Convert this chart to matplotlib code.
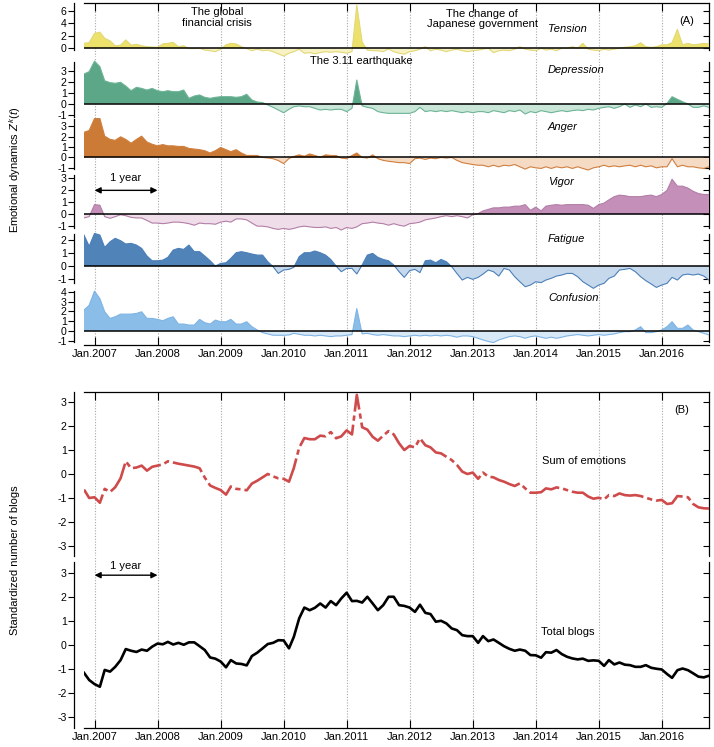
import numpy as np
import pandas as pd
import matplotlib
matplotlib.use('Agg')
import matplotlib.pyplot as plt

plt.rcParams['font.family'] = ['Liberation Sans', 'DejaVu Sans']
plt.rcParams['mathtext.fontset'] = 'custom'
plt.rcParams['mathtext.it'] = 'Liberation Sans:italic'
plt.rcParams['mathtext.rm'] = 'Liberation Sans'
plt.rcParams['axes.unicode_minus'] = False

# ---------------- data ----------------
months = pd.date_range('2006-11-01', periods=120, freq='MS')
year_ticks = pd.date_range('2007-01-01', '2016-01-01', freq='YS')
year_labels = ['Jan.%d' % y for y in range(2007, 2017)]

tension = np.array([
    0.8, 0.9, 2.4, 2.6, 1.6, 1.2, 0.4, 0.5, 1.35, 0.5,
    0.65, 0.4, 0.25, 0.2, 0.15, 0.7, 0.8, 0.95, 0.25, 0.4,
    -0.05, -0.05, 0, -0.3, -0.4, -0.55, -0.15, 0.55, 0.8, 0.7,
    0.25, -0.05, -0.4, -0.15, -0.4, -0.3, -0.55, -0.9, -1.25, -0.8,
    -0.55, -0.15, -0.8, -0.7, -0.9, -0.7, -0.55, -0.65, -0.55, -0.65,
    -0.8, -0.55, 7.0, 1.0, -0.3, -0.4, -0.4, -0.55, -0.1, -0.55,
    -0.8, -0.95, -0.55, -0.4, -0.15, 0.25, -0.4, -0.15, -0.3, -0.55,
    -0.3, -0.15, -0.4, -0.55, -0.4, -0.3, -0.15, 0, -0.7, -0.4,
    -0.3, -0.4, -0.15, 0.25, -0.15, -0.3, -0.4, 0, -0.3, -0.15,
    -0.4, 0, 0, 0.25, 0, 0.8, -0.15, -0.3, -0.4, -0.15,
    -0.3, -0.15, 0, 0.15, 0.25, 0.4, 0.9, 0.25, 0.15, 0.25,
    0.55, 0.55, 0.9, 3.05, 0.55, 0.8, 0.55, 0.65, 0.8, 0.7])

depression = np.array([
    2.72, 2.94, 3.9, 3.4, 2.1, 1.93, 1.87, 1.96, 1.62, 1.19,
    1.5, 1.4, 1.25, 1.4, 1.19, 1.1, 1.19, 1.1, 1.1, 1.25,
    0.49, 0.7, 0.8, 0.58, 0.49, 0.58, 0.64, 0.64, 0.64, 0.58,
    0.64, 0.86, 0.34, 0.15, 0.1, -0.12, -0.34, -0.58, -0.83, -0.52,
    -0.28, -0.21, -0.28, -0.28, -0.43, -0.58, -0.52, -0.58, -0.52, -0.52,
    -0.73, -0.43, 2.17, -0.2, -0.34, -0.43, -0.73, -0.83, -0.89, -0.89,
    -0.89, -0.89, -0.89, -0.73, -0.34, -0.73, -0.64, -0.73, -0.64, -0.73,
    -0.64, -0.73, -0.83, -0.73, -0.83, -0.73, -0.73, -0.83, -0.64, -0.73,
    -0.83, -0.64, -0.73, -0.58, -0.95, -0.73, -0.83, -0.64, -0.73, -0.83,
    -0.73, -0.64, -0.73, -0.64, -0.58, -0.64, -0.52, -0.58, -0.43, -0.34,
    -0.28, -0.43, -0.28, -0.03, -0.34, -0.12, -0.28, -0.03, -0.34, -0.28,
    -0.34, 0.03, 0.64, 0.4, 0.18, -0.03, -0.34, -0.34, -0.2, -0.34])

anger = np.array([
    2.42, 2.6, 3.76, 3.76, 2.05, 1.74, 1.65, 1.99, 1.74, 1.37,
    1.74, 2.05, 1.49, 1.27, 1.12, 1.24, 1.12, 1.12, 1.06, 1.06,
    0.87, 0.81, 0.75, 0.65, 0.43, 0.65, 0.96, 0.75, 0.56, 0.75,
    0.43, 0.19, 0.19, 0.19, 0, -0.05, -0.12, -0.3, -0.59, -0.1,
    0.1, 0.25, 0.12, 0.34, 0.19, 0.03, 0.25, 0.19, 0.19, -0.06,
    -0.12, 0.19, 0.43, 0, -0.06, 0.25, -0.12, -0.28, -0.37, -0.43,
    -0.5, -0.5, -0.59, -0.12, -0.06, -0.19, -0.06, -0.12, 0, -0.06,
    0, -0.28, -0.5, -0.59, -0.68, -0.75, -0.75, -0.9, -0.75, -0.9,
    -0.75, -0.81, -0.68, -0.9, -1.12, -0.9, -1.0, -1.06, -0.9, -1.06,
    -0.9, -1.0, -0.9, -1.06, -0.9, -1.06, -1.21, -1.0, -0.9, -0.75,
    -0.9, -0.81, -0.9, -0.81, -0.75, -0.9, -0.75, -0.9, -0.81, -1.0,
    -0.9, -0.9, -0.12, -0.9, -0.75, -0.9, -0.9, -1.0, -1.06, -0.9])

vigor = np.array([
    -0.32, -0.21, 0.8, 0.75, -0.21, -0.35, -0.21, -0.05, -0.13, -0.27,
    -0.32, -0.32, -0.53, -0.75, -0.75, -0.8, -0.75, -0.67, -0.67, -0.72,
    -0.8, -0.93, -0.75, -0.8, -0.8, -0.85, -0.67, -0.59, -0.67, -0.4,
    -0.4, -0.48, -0.75, -1.01, -1.01, -1.07, -1.2, -1.28, -1.2, -1.28,
    -1.2, -1.07, -1.01, -1.07, -1.12, -1.12, -1.07, -1.2, -1.12, -1.33,
    -1.12, -1.2, -1.07, -0.8, -0.75, -0.67, -0.75, -0.8, -0.93, -0.8,
    -0.93, -1.01, -0.8, -0.75, -0.67, -0.48, -0.4, -0.32, -0.21, -0.13,
    -0.21, -0.13, -0.21, -0.32, -0.05, 0.05, 0.27, 0.4, 0.53, 0.53,
    0.59, 0.59, 0.67, 0.67, 0.8, 0.32, 0.59, 0.27, 0.67, 0.75,
    0.8, 0.75, 0.8, 0.8, 0.8, 0.8, 0.75, 0.48, 0.8, 0.93,
    1.2, 1.47, 1.6, 1.55, 1.47, 1.47, 1.47, 1.55, 1.6, 1.47,
    1.65, 2.0, 2.93, 2.35, 2.35, 2.19, 1.92, 1.73, 1.65, 1.65])

fatigue = np.array([
    2.35, 1.5, 2.47, 2.35, 1.41, 1.84, 2.1, 1.92, 1.67, 1.72,
    1.59, 1.34, 0.76, 0.4, 0.4, 0.45, 0.66, 1.21, 1.34, 1.26,
    1.59, 1.09, 1.09, 0.76, 0.4, 0, 0.2, 0.25, 0.58, 1.01,
    1.09, 1.01, 0.91, 0.83, 0.83, 0.33, -0.05, -0.56, -0.3, -0.25,
    -0.1, 0.71, 1.01, 1.01, 1.14, 1.01, 0.83, 0.5, 0, -0.43,
    -0.18, -0.18, -0.6, 0.08, 0.83, 0.96, 0.66, 0.5, 0.4, 0.08,
    -0.43, -0.86, -0.35, -0.25, -0.5, 0.4, 0.45, 0.25, 0.5, 0.33,
    -0.05, -0.56, -1.06, -0.86, -1.01, -0.86, -0.61, -0.3, -0.43, -0.76,
    -0.18, -0.3, -0.81, -1.19, -1.57, -1.44, -1.19, -1.26, -1.06, -0.93,
    -0.76, -0.68, -0.56, -0.56, -0.81, -1.19, -1.44, -1.69, -1.44, -1.31,
    -0.93, -0.76, -0.3, -0.25, -0.18, -0.43, -0.81, -1.11, -1.36, -1.62,
    -1.44, -1.31, -0.86, -1.06, -0.68, -0.61, -0.68, -0.61, -0.76, -1.06])

confusion = np.array([
    2.14, 2.64, 4.1, 3.32, 1.97, 1.29, 1.46, 1.73, 1.73, 1.73,
    1.8, 1.97, 1.29, 1.29, 1.19, 1.05, 1.29, 1.46, 0.71, 0.71,
    0.61, 0.61, 1.19, 0.85, 0.71, 1.12, 0.95, 0.95, 1.19, 0.71,
    0.71, 0.95, 0.44, 0.1, -0.17, -0.3, -0.44, -0.44, -0.44, -0.41,
    -0.24, -0.34, -0.44, -0.44, -0.51, -0.44, -0.51, -0.58, -0.51, -0.51,
    -0.44, -0.37, 2.3, -0.3, -0.24, -0.37, -0.44, -0.37, -0.44, -0.51,
    -0.51, -0.58, -0.51, -0.44, -0.51, -0.44, -0.51, -0.44, -0.51, -0.44,
    -0.51, -0.64, -0.51, -0.51, -0.58, -0.75, -0.92, -1.08, -1.19, -0.92,
    -0.75, -0.58, -0.51, -0.58, -0.75, -0.58, -0.51, -0.64, -0.75, -0.64,
    -0.75, -0.64, -0.51, -0.44, -0.37, -0.44, -0.51, -0.44, -0.37, -0.44,
    -0.37, -0.3, -0.17, -0.07, -0.07, 0.1, 0.44, -0.17, -0.17, -0.07,
    0.1, 0.44, 0.95, 0.27, 0.27, 0.61, 0.1, -0.07, -0.24, -0.41])

sum_emotions = np.array([
    -0.65, -1.0, -0.97, -1.2, -0.62, -0.75, -0.55, -0.18, 0.53, 0.24,
    0.27, 0.35, 0.14, 0.3, 0.35, 0.4, 0.53, 0.48, 0.43, 0.39,
    0.35, 0.31, 0.24, -0.15, -0.48, -0.58, -0.67, -0.86, -0.52, -0.62,
    -0.64, -0.68, -0.4, -0.28, -0.14, 0.0, -0.1, -0.18, -0.2, -0.32,
    0.25, 1.1, 1.5, 1.45, 1.45, 1.6, 1.57, 1.75, 1.49, 1.57,
    1.82, 1.65, 3.3, 1.95, 1.85, 1.55, 1.39, 1.6, 1.79, 1.65,
    1.28, 1.0, 1.17, 1.11, 1.49, 1.2, 1.11, 0.9, 0.86, 0.72,
    0.58, 0.38, 0.1, 0.0, 0.06, -0.2, 0.06, -0.11, -0.14, -0.25,
    -0.32, -0.42, -0.5, -0.39, -0.6, -0.78, -0.78, -0.76, -0.6, -0.64,
    -0.56, -0.6, -0.67, -0.74, -0.78, -0.78, -0.94, -1.03, -0.99, -1.06,
    -0.88, -0.92, -0.81, -0.88, -0.9, -0.88, -0.92, -0.99, -1.06, -1.11,
    -1.08, -1.25, -1.22, -0.92, -0.94, -0.97, -1.25, -1.39, -1.43, -1.44])

total_blogs = np.array([
    -1.17, -1.47, -1.64, -1.75, -1.05, -1.12, -0.92, -0.64, -0.18, -0.25,
    -0.3, -0.2, -0.25, -0.08, 0.05, 0.02, 0.12, 0.01, 0.08, 0.0,
    0.1, 0.1, -0.06, -0.22, -0.53, -0.58, -0.7, -0.94, -0.64, -0.78,
    -0.8, -0.86, -0.47, -0.33, -0.15, 0.03, 0.08, 0.19, 0.18, -0.15,
    0.33, 1.1, 1.55, 1.44, 1.54, 1.72, 1.55, 1.82, 1.65, 1.93,
    2.17, 1.82, 1.83, 1.76, 2.0, 1.72, 1.44, 1.65, 2.0, 2.0,
    1.65, 1.62, 1.55, 1.37, 1.67, 1.33, 1.28, 0.96, 1.0, 0.89,
    0.68, 0.61, 0.4, 0.36, 0.36, 0.08, 0.36, 0.15, 0.22, 0.08,
    -0.06, -0.17, -0.25, -0.2, -0.25, -0.43, -0.44, -0.54, -0.31, -0.33,
    -0.22, -0.39, -0.5, -0.57, -0.61, -0.58, -0.67, -0.65, -0.67, -0.88,
    -0.64, -0.82, -0.74, -0.83, -0.85, -0.92, -0.92, -0.85, -0.96, -1.0,
    -1.03, -1.22, -1.38, -1.06, -0.99, -1.06, -1.19, -1.33, -1.36, -1.29])

emotion_names = ['Tension', 'Depression', 'Anger', 'Vigor', 'Fatigue', 'Confusion']
emotion_values = [tension, depression, anger, vigor, fatigue, confusion]

# ---------------- styles ----------------
W, H = 714, 747
fig = plt.figure(figsize=(W / 100, H / 100), dpi=100)
L_PX, R_PX = 84, 709
FS = 8
TFS = 7.6

def fx(x):
    return x / W

def fy(y):
    return 1 - y / H

styles = [
    # ylim, yticks, spine bounds, height(px), pos, neg, line
    ((-1.45, 7.3), [0, 2, 4, 6], (-0.35, 7.3), 54.25, '#ece26b', '#f7f2c3', '#e2d878'),
    ((-1.27, 4.26), [-1, 0, 1, 2, 3], (-1.2, 3.85), 60.25, '#5ca787', '#c9e6d9', '#6db496'),
    ((-1.45, 3.85), [-1, 0, 1, 2, 3], (-1.15, 3.75), 55.0, '#cc7b36', '#f5dac4', '#cf7f3f'),
    ((-1.5, 3.5), [-1, 0, 1, 2, 3], (-1.2, 3.3), 59.5, '#c48fb8', '#efdde9', '#b27ea6'),
    ((-1.74, 2.58), [-1, 0, 1, 2], (-1.3, 2.45), 57.0, '#5083b8', '#c6d8ec', '#4c80b9'),
    ((-1.44, 4.31), [-1, 0, 1, 2, 3, 4], (-1.15, 4.15), 56.0, '#8bbde9', '#d7e8f7', '#7fb4e4'),
]

def style_axis(ax, ylim, yticks, bounds, top=False, bottom=False, labels=False):
    ax.set_xlim(months[0], months[-1])
    ax.set_ylim(*ylim)
    ax.set_yticks(yticks)
    ax.spines['left'].set_position(('outward', 7))
    ax.spines['left'].set_bounds(*bounds)
    ax.spines['right'].set_visible(False)
    ax.spines['top'].set_visible(top)
    ax.spines['bottom'].set_visible(bottom)
    for s in ax.spines.values():
        s.set_linewidth(0.9)
    ax.tick_params(axis='y', direction='out', length=4, width=0.8,
                   labelsize=TFS, pad=1.5)
    sec = ax.secondary_yaxis('right')
    sec.set_yticks(yticks)
    sec.tick_params(direction='in', length=4, width=0.8, labelright=False)
    sec.spines['right'].set_bounds(*bounds)
    sec.spines['right'].set_linewidth(0.9)
    ax.set_xticks(year_ticks)
    ax.grid(axis='x', color='#a8a8a8', linestyle=(0, (1, 1.5)), linewidth=0.8)
    ax.set_axisbelow(True)
    if top:
        ax.tick_params(axis='x', top=True, bottom=False, direction='in',
                       length=6, width=0.8, labelbottom=False, labeltop=False)
    elif bottom:
        ax.tick_params(axis='x', top=False, bottom=True, direction='in',
                       length=6, width=0.8, labelbottom=labels, labelsize=FS, pad=3)
        if labels:
            ax.set_xticklabels(year_labels)
    else:
        ax.tick_params(axis='x', length=0, labelbottom=False)

# ---------------- panel A ----------------
y_cur = 3.0
axesA = []
for k, (name, vals, st) in enumerate(zip(emotion_names, emotion_values, styles)):
    ylim, yticks, bounds, hpx, pos, neg, line = st
    ax = fig.add_axes([fx(L_PX), fy(y_cur + hpx), fx(R_PX - L_PX), hpx / H])
    y_cur += hpx
    ax.fill_between(months, vals, 0, where=vals >= 0, interpolate=True,
                    color=pos, linewidth=0, zorder=2)
    ax.fill_between(months, vals, 0, where=vals <= 0, interpolate=True,
                    color=neg, linewidth=0, zorder=2)
    ax.plot(months, vals, color=line, linewidth=0.8, zorder=3)
    ax.axhline(0, color='black', linewidth=1.1, zorder=4)
    style_axis(ax, ylim, yticks, bounds, top=(k == 0), bottom=(k == 5), labels=(k == 5))
    axesA.append(ax)

# 1 year arrow in panel A (Vigor axes)
axv = axesA[3]
axv.annotate('', xy=(year_ticks[1], 2.0), xytext=(year_ticks[0], 2.0),
             arrowprops=dict(arrowstyle='<|-|>', color='black', lw=1.0,
                             mutation_scale=9, shrinkA=0, shrinkB=0), zorder=5)
axv.text(year_ticks[0] + (year_ticks[1] - year_ticks[0]) / 2, 3.0, '1 year',
         ha='center', va='center', fontsize=FS)

# ---------------- panel B ----------------
axB1 = fig.add_axes([fx(L_PX), fy(556), fx(R_PX - L_PX), (556 - 392) / H])
axB2 = fig.add_axes([fx(L_PX), fy(728), fx(R_PX - L_PX), (728 - 556) / H])
axB1.plot(months, sum_emotions, color='#cf4a4a', linewidth=1.9,
          linestyle=(0, (12, 1.5, 2, 1.5)))
axB2.plot(months, total_blogs, color='black', linewidth=1.9)
bt = [-3, -2, -1, 0, 1, 2, 3]
style_axis(axB1, (-3.42, 3.42), bt, (-3.4, 3.42), top=True)
style_axis(axB2, (-3.47, 3.7), bt, (-3.47, 3.45), bottom=True, labels=True)

axB2.annotate('', xy=(year_ticks[1], 2.9), xytext=(year_ticks[0], 2.9),
              arrowprops=dict(arrowstyle='<|-|>', color='black', lw=1.0,
                              mutation_scale=9, shrinkA=0, shrinkB=0))
axB2.text(year_ticks[0] + (year_ticks[1] - year_ticks[0]) / 2, 3.3, '1 year',
          ha='center', va='center', fontsize=FS)

# ---------------- texts ----------------
fig.text(fx(217), fy(17.5), 'The global\nfinancial crisis', ha='center', va='center',
         fontsize=FS, linespacing=1.2)
fig.text(fx(482), fy(19), 'The change of\nJapanese government', ha='center', va='center',
         fontsize=FS, linespacing=1.1)
fig.text(fx(361), fy(61), 'The 3.11 earthquake', ha='center', va='center', fontsize=FS)
fig.text(fx(687), fy(21), '(A)', ha='center', va='center', fontsize=FS)
fig.text(fx(682), fy(410), '(B)', ha='center', va='center', fontsize=FS)

label_y = [29, 70, 127, 182, 239, 298]
for name, ly in zip(emotion_names, label_y):
    fig.text(fx(548), fy(ly), name, ha='left', va='center', fontsize=FS, style='italic')

fig.text(fx(584), fy(461), 'Sum of emotions', ha='center', va='center', fontsize=FS)
fig.text(fx(568), fy(632), 'Total blogs', ha='center', va='center', fontsize=FS)

fig.text(fx(15), fy(170), r'Emotional dynamics $Z^{k}(t)$', rotation=90,
         ha='center', va='center', fontsize=FS)
fig.text(fx(15), fy(560), 'Standardized number of blogs', rotation=90,
         ha='center', va='center', fontsize=FS)

fig.savefig('out.png', dpi=100)
